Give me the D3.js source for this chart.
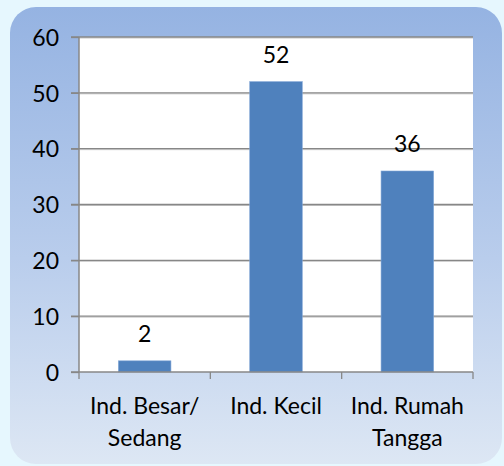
<!DOCTYPE html>
<html><head><meta charset="utf-8">
<script src="https://cdn.jsdelivr.net/npm/d3@7"></script>
<style>html,body{margin:0;padding:0;background:#E6F7FE;}svg{display:block;}</style>
</head><body>
<script>
const categories = [["Ind. Besar/","Sedang"],["Ind. Kecil"],["Ind. Rumah","Tangga"]];
const values = [2, 52, 36];
const yTicks = [0,10,20,30,40,50,60];

const W=504,H=466;
const FONT="Lato, sans-serif", FS=23;
const svg=d3.select("body").append("svg").attr("width",W).attr("height",H);
const defs=svg.append("defs");
const g1=defs.append("linearGradient").attr("id","bg").attr("x1",0).attr("y1",0).attr("x2",0).attr("y2",1);
g1.append("stop").attr("offset","0%").attr("stop-color","#95B3E2");
g1.append("stop").attr("offset","55%").attr("stop-color","#B9CDEC");
g1.append("stop").attr("offset","100%").attr("stop-color","#DDE7F4");
svg.append("rect").attr("x",0).attr("y",0).attr("width",W).attr("height",H).attr("fill","#E6F7FE");
svg.append("rect").attr("x",10).attr("y",7).attr("width",492).attr("height",457).attr("rx",26).attr("fill","url(#bg)");

const L=79,R=473,T=37,B=372;
const x=d3.scaleBand().domain(d3.range(categories.length)).range([L,R]).padding(0);
const y=d3.scaleLinear().domain([0,60]).range([B,T]);

svg.append("rect").attr("x",L).attr("y",T).attr("width",R-L).attr("height",B-T).attr("fill","#fff");

const grid=svg.append("g");
yTicks.filter(v=>v>0).forEach(v=>{
  grid.append("line").attr("x1",L).attr("x2",R).attr("y1",y(v)+1).attr("y2",y(v)+1).attr("stroke","#C8C8C8").attr("stroke-width",1);
  grid.append("line").attr("x1",L-8).attr("x2",R).attr("y1",y(v)).attr("y2",y(v)).attr("stroke","#878787").attr("stroke-width",1.3);
});

const bw=x.bandwidth()*0.4;
svg.append("g").selectAll("rect").data(values).join("rect")
  .attr("x",(d,i)=>x(i)+x.bandwidth()/2-bw/2).attr("y",d=>y(d))
  .attr("width",bw).attr("height",d=>B-y(d))
  .attr("fill","#4F81BD").attr("stroke","#7FA5D6").attr("stroke-width",0.6);

svg.append("g").selectAll("text").data(values).join("text")
  .attr("x",(d,i)=>x(i)+x.bandwidth()/2).attr("y",d=>y(d)-19)
  .attr("text-anchor","middle").attr("font-family",FONT).attr("font-size",FS).attr("fill","#000")
  .text(d=>d);

const yAxis=d3.axisLeft(y).tickValues(yTicks).tickSize(8).tickPadding(12);
const ya=svg.append("g").attr("transform",`translate(${L},0)`).call(yAxis);
ya.select(".domain").attr("stroke","#878787").attr("stroke-width",1.5).attr("d",`M0,${T}V${B}`);
ya.selectAll(".tick line").attr("stroke","#878787").attr("stroke-width",1.3);
ya.selectAll(".tick text").attr("font-family",FONT).attr("font-size",FS).attr("fill","#000").attr("dy","0.36em");

const xa=svg.append("g");
xa.append("line").attr("x1",L-8).attr("x2",R).attr("y1",B).attr("y2",B).attr("stroke","#878787").attr("stroke-width",1.5);
const edges=d3.range(categories.length).map(i=>x(i)).concat([R]);
xa.selectAll("line.t").data(edges).join("line").attr("class","t")
  .attr("x1",d=>d).attr("x2",d=>d).attr("y1",B).attr("y2",B+7).attr("stroke","#878787").attr("stroke-width",1.3);
const lab=xa.selectAll("text").data(categories).join("text")
  .attr("text-anchor","middle").attr("font-family",FONT).attr("font-size",FS).attr("fill","#000");
lab.each(function(lines,i){
  const t=d3.select(this);
  lines.forEach((s,k)=>t.append("tspan").attr("x",x(i)+x.bandwidth()/2).attr("y",414+k*32).text(s));
});
</script>
</body></html>
